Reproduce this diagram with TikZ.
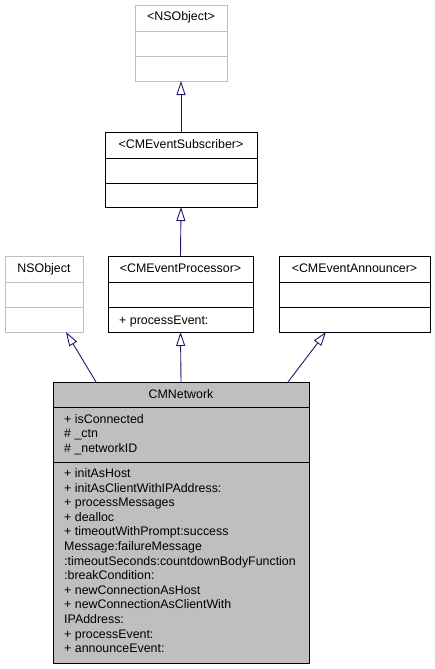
\documentclass[tikz,border=0pt]{standalone}
\usepackage{fontspec}
\setmainfont{Liberation Sans}
\usetikzlibrary{arrows.meta,calc}

\definecolor{edgeblue}{HTML}{191970}
\definecolor{boxgray}{HTML}{BFBFBF}

\tikzset{
  classbox/.style={draw, rectangle, inner sep=0pt, outer sep=0pt, anchor=north west, line width=0.9pt},
  faded/.style={draw=boxgray},
  title/.style={anchor=base, inner sep=0pt, font=\fontsize{12.4}{14.6}\selectfont},
  member/.style={anchor=base west, inner sep=0pt, font=\fontsize{12.4}{14.6}\selectfont},
  inherit/.style={draw=edgeblue, line width=0.9pt, -{Triangle[length=14pt,width=9pt,fill=white]}},
}

\begin{document}
\begin{tikzpicture}[x=1pt,y=-1pt]
\useasboundingbox (0,0) rectangle (435,669);

% class boxes
\node[classbox,faded,minimum width=92pt,minimum height=76pt] (nsproto) at (135,5) {};
\node[classbox,minimum width=152pt,minimum height=75pt] (subscriber) at (105,132) {};
\node[classbox,faded,minimum width=78pt,minimum height=76pt] (nsobject) at (5,256) {};
\node[classbox,minimum width=145pt,minimum height=76pt] (processor) at (108,256) {};
\node[classbox,minimum width=151pt,minimum height=76pt] (announcer) at (279,256) {};
\node[classbox,fill=boxgray,minimum width=256pt,minimum height=281pt] (network) at (53,382) {};

% compartments
\foreach \b/\c in {nsproto/boxgray, subscriber/black, nsobject/boxgray, processor/black, announcer/black}
  \foreach \d in {26,51}
    \draw[\c,line width=0.9pt] ($(\b.north west)+(0,\d)$) -- ($(\b.north east)+(0,\d)$);
\draw[line width=0.9pt] ($(network.north west)+(0,25)$) -- ($(network.north east)+(0,25)$);
\draw[line width=0.9pt] ($(network.north west)+(0,80)$) -- ($(network.north east)+(0,80)$);

% names
\node[title] (nsproto-name) at ($(nsproto.north)+(0,16)$) {<NSObject>};
\node[title] (subscriber-name) at ($(subscriber.north)+(0,16)$) {<CMEventSubscriber>};
\node[title] (nsobject-name) at ($(nsobject.north)+(0,16.5)$) {NSObject};
\node[title] (processor-name) at ($(processor.north)+(0,16.5)$) {<CMEventProcessor>};
\node[title] (announcer-name) at ($(announcer.north)+(0,16.5)$) {<CMEventAnnouncer>};
\node[title] (network-name) at ($(network.north)+(0,16)$) {CMNetwork};

% members
\node[member] (processor-op) at ($(processor.north west)+(11,68)$) {+ processEvent:};
\foreach \t [count=\i from 0] in {+ isConnected, \# \_ctn, \# \_networkID}
  \node[member] (network-attr\i) at ($(network.north west)+(11,41+14.6*\i)$) {\t};
\foreach \t [count=\i from 0] in {+ initAsHost, + initAsClientWithIPAddress:, + processMessages, + dealloc,
    + timeoutWithPrompt:success, Message:failureMessage, :timeoutSeconds:countdownBodyFunction,
    :breakCondition:, + newConnectionAsHost, + newConnectionAsClientWith, IPAddress:,
    + processEvent:, + announceEvent:}
  \node[member] (network-op\i) at ($(network.north west)+(11,95.5+14.6*\i)$) {\t};

% inheritance
\draw[inherit] (subscriber.north) -- (nsproto.south);
\draw[inherit] (processor.north) -- (subscriber.south);
\draw[inherit] (network.north) -- (processor.south);
\draw[inherit] ($(network.north west)+(43,0)$) -- ($(nsobject.south west)+(61,0)$);
\draw[inherit] ($(network.north west)+(235,0)$) -- ($(announcer.south west)+(47,0)$);
\end{tikzpicture}
\end{document}
